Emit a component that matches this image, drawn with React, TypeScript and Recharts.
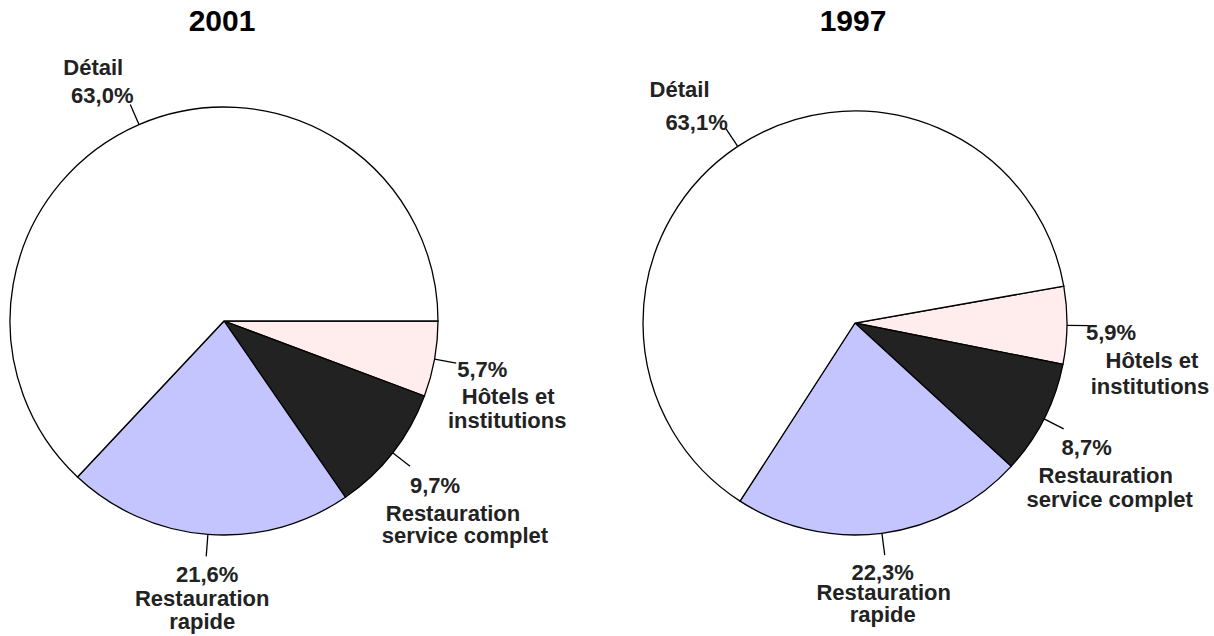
import { PieChart, Pie, Cell } from "recharts"

// categories in drawing order (clockwise from the start angle)
const categories = ["Hôtels et institutions", "Restauration service complet", "Restauration rapide", "Détail"]
const categoryLines = [["Hôtels et", "institutions"], ["Restauration", "service complet"], ["Restauration", "rapide"], ["Détail"]]
const values2001 = [5.7, 9.7, 21.6, 63.0]
const values1997 = [5.9, 8.7, 22.3, 63.1]
const years = ["2001", "1997"]

const colors = ["#FFECEC", "#222222", "#C4C4FF", "#FFFFFF"]
const RAD = Math.PI / 180
const LEADER = 22
const FONT = "'Liberation Sans', Arial, sans-serif"

// text offsets (dx, dy of each line) from the end of the leader line
type LineOffset = [number, number]
const labelLayout: Record<string, LineOffset[]> = {
  "2001-0": [[26, 14], [52, 41], [51, 65]],
  "2001-1": [[25, 27], [43, 55], [55, 77]],
  "2001-2": [[1, 26], [-4, 50], [-4, 73]],
  "2001-3": [[-37, -29], [-28, -1]],
  "1997-0": [[22, 14], [63, 42], [61, 68]],
  "1997-1": [[23, 26], [42, 54], [46, 78]],
  "1997-2": [[-2, 25], [-1, 45], [-2, 67]],
  "1997-3": [[-46, -31], [-29, 2]],
}

const fmt = (v: number) => v.toFixed(1).replace(".", ",") + "%"

function makeLabel(year: string) {
  return (props: any) => {
    const { cx, cy, midAngle, outerRadius, index, value } = props
    const c = Math.cos(-midAngle * RAD)
    const s = Math.sin(-midAngle * RAD)
    const x0 = cx + outerRadius * c
    const y0 = cy + outerRadius * s
    const x1 = cx + (outerRadius + LEADER) * c
    const y1 = cy + (outerRadius + LEADER) * s
    const lines = index === 3 ? [...categoryLines[index], fmt(value)] : [fmt(value), ...categoryLines[index]]
    const layout = labelLayout[`${year}-${index}`]
    return (
      <g key={`lbl-${year}-${index}`}>
        <line x1={x0} y1={y0} x2={x1} y2={y1} stroke="#000" strokeWidth={1.3} />
        {lines.map((t, i) => (
          <text
            key={i}
            x={x1 + layout[i][0]}
            y={y1 + layout[i][1]}
            textAnchor="middle"
            fontFamily={FONT}
            fontWeight="bold"
            fontSize={22}
            fill="#222"
          >
            {t}
          </text>
        ))}
      </g>
    )
  }
}

const data2001 = categories.map((name, i) => ({ name, value: values2001[i] }))
const data1997 = categories.map((name, i) => ({ name, value: values1997[i] }))

export default function App() {
  return (
    <div style={{ position: "absolute", left: 0, top: 0, width: 1214, height: 636, background: "#fff" }}>
      <div style={{ position: "absolute", left: 122, width: 200, top: 4, textAlign: "center", fontFamily: FONT, fontWeight: "bold", fontSize: 30, color: "#000" }}>
        {years[0]}
      </div>
      <div style={{ position: "absolute", left: 753, width: 200, top: 4, textAlign: "center", fontFamily: FONT, fontWeight: "bold", fontSize: 30, color: "#000" }}>
        {years[1]}
      </div>
      <PieChart
        width={1214}
        height={636}
        margin={{ top: 0, right: 0, bottom: 0, left: 0 }}
        style={{ position: "absolute", left: 0, top: 0 }}
      >
        <Pie
          data={data2001}
          dataKey="value"
          nameKey="name"
          cx={224}
          cy={321}
          outerRadius={214}
          startAngle={0}
          endAngle={-360}
          stroke="#000"
          strokeWidth={1.3}
          label={makeLabel(years[0])}
          labelLine={false}
          isAnimationActive={false}
        >
          {data2001.map((d, i) => (
            <Cell key={d.name} fill={colors[i]} />
          ))}
        </Pie>
        <Pie
          data={data1997}
          dataKey="value"
          nameKey="name"
          cx={855}
          cy={323}
          outerRadius={212}
          startAngle={10}
          endAngle={-350}
          stroke="#000"
          strokeWidth={1.3}
          label={makeLabel(years[1])}
          labelLine={false}
          isAnimationActive={false}
        >
          {data1997.map((d, i) => (
            <Cell key={d.name} fill={colors[i]} />
          ))}
        </Pie>
      </PieChart>
    </div>
  )
}
